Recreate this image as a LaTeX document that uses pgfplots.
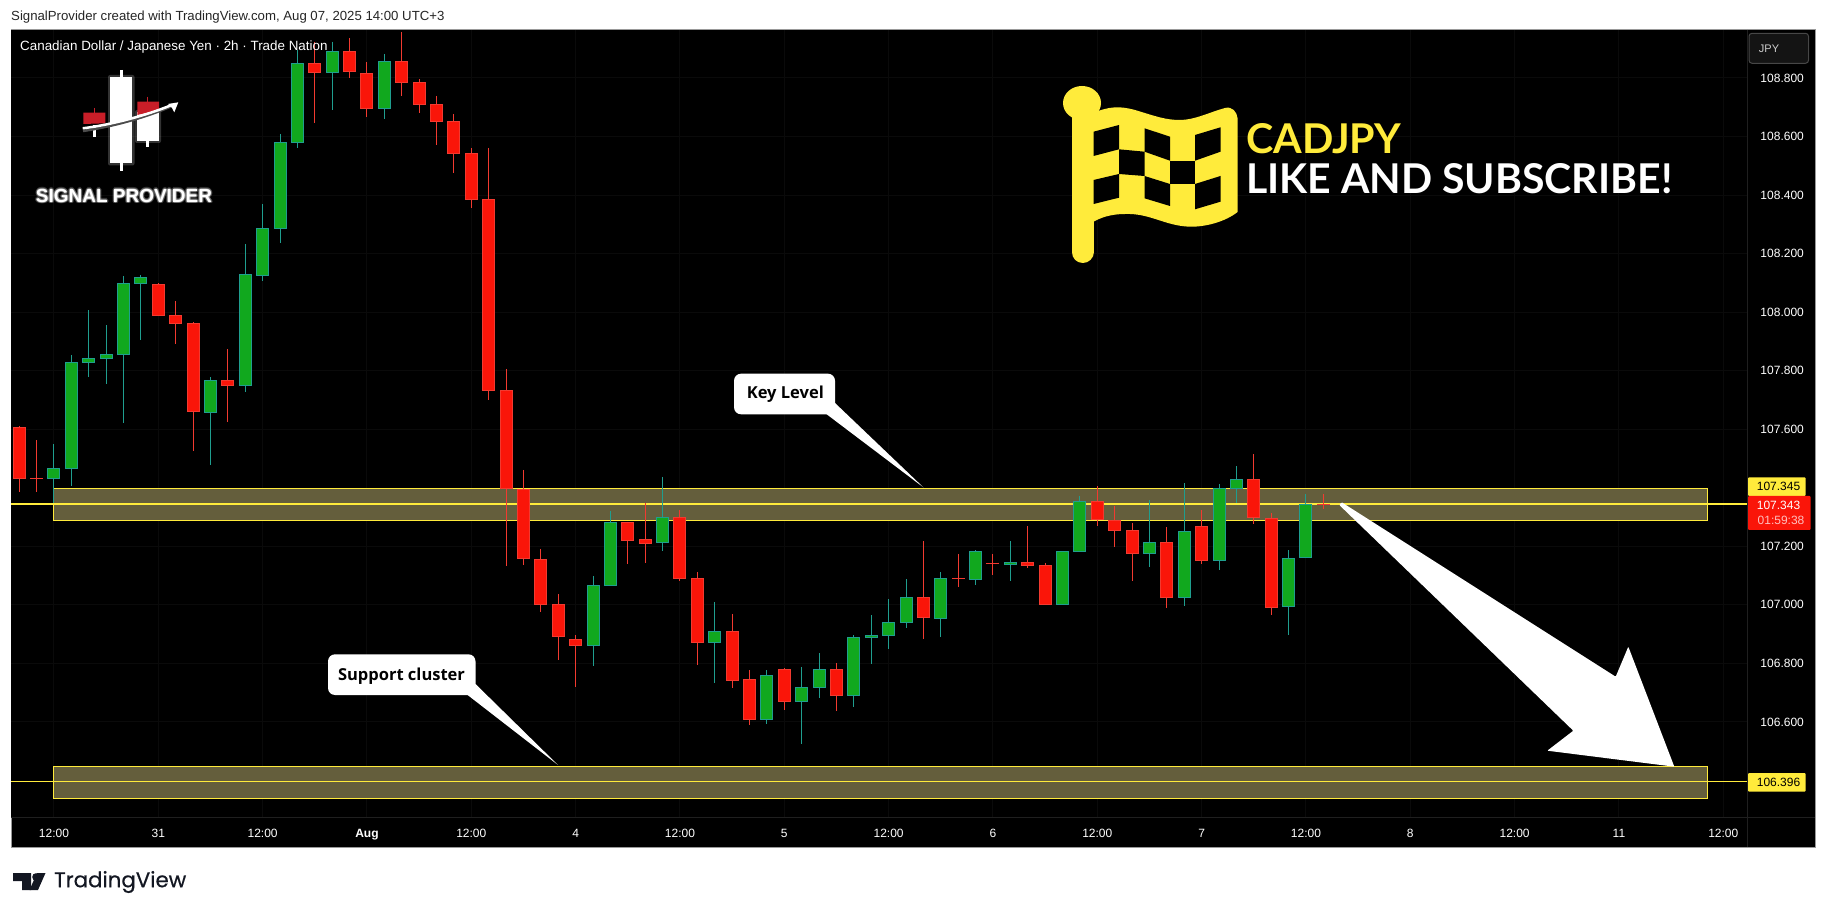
\documentclass[border=0pt]{standalone}
\usepackage{fontspec}
\usepackage{graphicx}
\usepackage{pgfplots}
\usepackage{pgfplotstable}
\pgfplotsset{compat=1.18}
\setmainfont{Liberation Sans}
\newfontfamily\lato{Lato}
\newfontfamily\opensans{Open Sans}
\newfontfamily\tvfont[FakeBold=0.5]{Poppins}

\definecolor{upfill}{HTML}{11A81E}
\definecolor{upline}{HTML}{1F9E8F}
\definecolor{downfill}{HTML}{FA1509}
\definecolor{downline}{HTML}{F23A30}
\definecolor{tvyellow}{HTML}{FFEB3B}
\definecolor{zone}{HTML}{645E3C}
\definecolor{gridc}{HTML}{0A0A0A}
\definecolor{tvdark}{HTML}{131722}
\definecolor{logored}{HTML}{C81E28}

% columns: bar, high, body top, body bottom, low
\pgfplotstableread{
i h t b l
2 107.550 107.467 107.431 107.347
3 107.854 107.829 107.465 107.406
4 108.007 107.842 107.827 107.780
5 107.956 107.856 107.841 107.755
6 108.124 108.099 107.855 107.622
7 108.127 108.119 108.097 107.905
11 107.778 107.767 107.657 107.479
13 108.233 108.129 107.749 107.728
14 108.370 108.287 108.125 108.108
15 108.609 108.580 108.285 108.237
16 108.896 108.850 108.579 108.562
18 108.924 108.891 108.818 108.691
21 108.882 108.857 108.695 108.661
33 107.099 107.067 106.860 106.791
34 107.321 107.282 107.066 107.066
37 107.437 107.299 107.212 107.184
40 107.010 106.910 106.871 106.734
43 106.777 106.759 106.608 106.593
45 106.788 106.718 106.669 106.525
46 106.835 106.780 106.717 106.682
48 106.896 106.889 106.690 106.651
49 106.965 106.896 106.888 106.798
50 107.020 106.940 106.895 106.849
51 107.088 107.026 106.939 106.921
53 107.112 107.091 106.953 106.890
55 107.187 107.183 107.086 107.068
57 107.218 107.145 107.137 107.082
60 107.183 107.183 107.001 107.001
61 107.372 107.354 107.182 107.182
65 107.357 107.214 107.175 107.129
67 107.416 107.251 107.025 106.997
69 107.413 107.398 107.151 107.119
70 107.474 107.429 107.397 107.347
73 107.187 107.159 106.994 106.897
74 107.379 107.345 107.161 107.161
}\upbars

\pgfplotstableread{
i h t b l
0 107.611 107.607 107.431 107.387
1 107.563 107.433 107.430 107.387
8 108.099 108.095 107.988 107.988
9 108.038 107.989 107.961 107.891
10 107.966 107.962 107.660 107.527
12 107.874 107.767 107.749 107.626
17 108.924 108.850 108.818 108.647
19 108.937 108.891 108.822 108.801
20 108.855 108.816 108.695 108.668
22 108.957 108.857 108.784 108.739
23 108.796 108.785 108.709 108.682
24 108.739 108.711 108.651 108.571
25 108.677 108.652 108.541 108.477
26 108.561 108.543 108.384 108.357
27 108.561 108.386 107.732 107.701
28 107.806 107.733 107.395 107.133
29 107.461 107.395 107.156 107.136
30 107.191 107.156 107.001 106.977
31 107.037 107.002 106.891 106.812
32 106.897 106.882 106.860 106.720
35 107.284 107.282 107.219 107.140
36 107.349 107.224 107.209 107.143
38 107.324 107.299 107.089 107.082
39 107.112 107.091 106.871 106.795
41 106.969 106.910 106.741 106.716
42 106.777 106.746 106.608 106.590
44 106.783 106.780 106.669 106.641
47 106.800 106.780 106.690 106.637
52 107.218 107.026 106.956 106.883
54 107.174 107.092 107.089 107.061
56 107.174 107.144 107.141 107.102
58 107.269 107.145 107.134 107.126
59 107.142 107.135 107.001 107.001
62 107.406 107.354 107.291 107.269
63 107.338 107.291 107.253 107.198
64 107.279 107.255 107.175 107.082
66 107.265 107.214 107.025 106.990
68 107.324 107.268 107.151 107.140
71 107.515 107.429 107.298 107.277
72 107.313 107.298 106.990 106.965
75 107.379 107.345 107.342 107.328
}\downbars

% #1 table, #2 outline/wick colour, #3 body colour
\newcommand\candles[3]{
  \addplot[forget plot, draw=none, mark=none, error bars/.cd, y dir=minus, y explicit,
    error mark=none, error bar style={draw=#2, line width=1pt}]
    table[x=i, y=h, y error minus expr={\thisrow{h}-\thisrow{l}}] {#1};
  \addplot[forget plot, draw=none, mark=none, error bars/.cd, y dir=minus, y explicit,
    error mark=none, error bar style={draw=#2, line width=13pt, line cap=butt}]
    table[x=i, y=t, y error minus expr={\thisrow{t}-\thisrow{b}}] {#1};
  \addplot[forget plot, draw=none, mark=none, error bars/.cd, y dir=minus, y explicit,
    error mark=none, error bar style={draw=#3, line width=11pt, line cap=butt}]
    table[x=i, y expr={\thisrow{t}-0.0034}, y error minus expr={max(\thisrow{t}-\thisrow{b}-0.0068,0)}] {#1};
}

\begin{document}
\begin{tikzpicture}
  \fill[white] (0,0) rectangle (1826pt,914pt);

  % panel behind the axis, in image pixels
  \begin{scope}[shift={(0,914pt)}, x=1pt, y=-1pt]
    \fill[black] (11,30) rectangle (1815,847);
    \draw[color=black!40!white, line width=1pt] (11,30) rectangle (1815,847);
  \end{scope}

  \begin{axis}[
    at={(11pt,97pt)}, anchor=south west,
    scale only axis, width=1736pt, height=787pt,
    xmin=-0.47, xmax=99.36, ymin=106.2752, ymax=108.964,
    axis background/.style={fill=black},
    axis line style={draw=none},
    major tick length=0pt,
    grid=major, grid style={color=gridc, line width=1pt},
    xtick={2,8,14,20,26,32,38,44,50,56,62,68,74,80,86,92,98},
    xticklabels={12:00,31,12:00,\textbf{Aug},12:00,4,12:00,5,12:00,6,12:00,7,12:00,8,12:00,11,12:00},
    ytick={106.6,106.8,107,107.2,107.6,107.8,108,108.2,108.4,108.6,108.8},
    scaled y ticks=false,
    yticklabel pos=right,
    tick label style={text=white, font=\fontsize{12}{12}\selectfont},
    yticklabel style={anchor=west, xshift=10pt, /pgf/number format/.cd, fixed, fixed zerofill, precision=3, assume math mode=true},
    xticklabel style={anchor=base, yshift=-20pt},
  ]
    % zones
    \addplot[forget plot, draw=tvyellow, line width=1pt, fill=zone] coordinates {(2,107.398) (97.09,107.398) (97.09,107.289) (2,107.289)} -- cycle;
    \addplot[forget plot, draw=tvyellow, line width=1pt, fill=zone] coordinates {(2,106.449) (97.09,106.449) (97.09,106.340) (2,106.340)} -- cycle;
    % price lines
    \addplot[forget plot, color=tvyellow, line width=1.5pt] coordinates {(-0.47,107.345) (99.36,107.345)};
    \addplot[forget plot, color=tvyellow, line width=1.5pt] coordinates {(-0.47,106.396) (99.36,106.396)};

    \candles{\upbars}{upline}{upfill}
    \candles{\downbars}{downline}{downfill}
  \end{axis}

  % everything else, in image pixels from the top left
  \begin{scope}[shift={(0,914pt)}, x=1pt, y=-1pt]
    \draw[color=black!88!white, line width=1pt] (1747,30) -- (1747,847);
    \draw[color=black!88!white, line width=1pt] (11,817) -- (1815,817);

    \node[anchor=west, inner sep=0pt, text=black!85!white, font=\fontsize{13.2}{13.2}\selectfont] at (11,16.7)
      {SignalProvider created with TradingView.com, Aug 07, 2025 14:00 UTC+3};
    \node[anchor=west, inner sep=0pt, text=white, font=\fontsize{13.4}{13.4}\selectfont] at (20,46.7)
      {Canadian Dollar / Japanese Yen · 2h · Trade Nation};

    % price badges
    \fill[tvyellow, rounded corners=1pt] (1748,477.3) rectangle (1805.7,496);
    \node[text=black, font=\fontsize{12}{12}\selectfont] at (1778.5,486.5) {107.345};
    \fill[downfill, rounded corners=1pt] (1748,496) rectangle (1810.7,530);
    \node[text=white, font=\fontsize{12}{12}\selectfont] at (1778.5,505.7) {107.343};
    \node[text=white!75!red, font=\fontsize{12}{12}\selectfont] at (1781,520.7) {01:59:38};
    \fill[tvyellow, rounded corners=1pt] (1748,773) rectangle (1805.7,791.7);
    \node[text=black, font=\fontsize{12}{12}\selectfont] at (1778.5,782.5) {106.396};

    % currency button
    \filldraw[fill=black!92!white, draw=black!72!white, rounded corners=3pt, line width=1pt] (1749,33.3) rectangle (1808.5,63.3);
    \node[text=white!80!black, font=\fontsize{11}{11}\selectfont] at (1769,49) {JPY};

    % call-outs
    \fill[white, rounded corners=7pt] (734,373.7) rectangle (835,414.3);
    \fill[white] (835,403) -- (923.3,487.3) -- (826.7,414.3) -- cycle;
    \node[text=black] at (785.3,394) {\resizebox{77pt}{!}{\opensans\bfseries Key Level}};
    \fill[white, rounded corners=7pt] (328,654.3) rectangle (475.5,695);
    \fill[white] (475.5,684) -- (558,765) -- (467.6,695) -- cycle;
    \node[text=black] at (401.5,676) {\resizebox{127pt}{!}{\opensans\bfseries Support cluster}};

    % big arrow
    \fill[white, rounded corners=0.8pt] (1339.3,505) -- (1341.7,502.3) -- (1615.7,676.7) -- (1628.3,646.7)
      -- (1674.3,766.7) -- (1547.3,750.7) -- (1573.3,730.7) -- cycle;

    % flag
    \draw[tvyellow, line width=22pt, line cap=round] (1082.5,110) -- (1082.5,252);
    \fill[tvyellow] (1082,103) ellipse (19 and 17);
    \fill[tvyellow] (1093,113) .. controls (1110,106) and (1120,106) .. (1135,110)
      .. controls (1155,116) and (1165,120) .. (1180,120)
      .. controls (1195,120) and (1210,112) .. (1225,108)
      .. controls (1232,106) and (1237,112) .. (1237.5,118) -- (1237.5,212)
      .. controls (1225,222) and (1205,227) .. (1190,226.7)
      .. controls (1165,226) and (1150,213) .. (1125,214)
      .. controls (1110,214) and (1100,218) .. (1093,222) -- cycle;
    \fill[black] (1093.5,131.7) -- (1119,125) -- (1119,149.3) -- (1093.5,156) -- cycle;
    \fill[black] (1144.5,128.3) -- (1170,136.7) -- (1170,160.7) -- (1144.5,151.7) -- cycle;
    \fill[black] (1195,135) -- (1220.5,127.3) -- (1220.5,151.7) -- (1195,160.7) -- cycle;
    \fill[black] (1119,149.3) -- (1144.5,151.7) -- (1144.5,176) -- (1119,174) -- cycle;
    \fill[black] (1170,160.7) -- (1195,160.7) -- (1195,184) -- (1170,184) -- cycle;
    \fill[black] (1093.5,180) -- (1119,174) -- (1119,197.7) -- (1093.5,204) -- cycle;
    \fill[black] (1144.5,176) -- (1170,184) -- (1170,206) -- (1144.5,198.3) -- cycle;
    \fill[black] (1195,184) -- (1220.5,176) -- (1220.5,201.7) -- (1195,209.3) -- cycle;
    \node[anchor=south west, inner sep=0pt, text=tvyellow] at (1246,154) {\resizebox{155pt}{30pt}{\lato\bfseries CADJPY}};
    \node[anchor=south west, inner sep=0pt, text=white] at (1246,194) {\resizebox{426pt}{30pt}{\lato\bfseries LIKE AND SUBSCRIBE!}};

    % logo
    \foreach \dx/\dy in {-1.5/0,1.5/0,0/-1.5,0/1.5,-1/-1,1/1,-1/1,1/-1}
      \node[text=white, opacity=0.18] at (124+\dx,195.5+\dy) {\resizebox{176pt}{!}{\bfseries SIGNAL PROVIDER}};
    \node[text=white] at (124,195.5) {\resizebox{176pt}{!}{\bfseries SIGNAL PROVIDER}};
    \fill[white, opacity=0.2, rounded corners=2pt] (108,75) rectangle (134.5,165.5);
    \fill[white, opacity=0.2, rounded corners=2pt] (135,110) rectangle (161,143);
    \draw[white, line width=2.5pt] (121.3,70) -- (121.3,171);
    \draw[white, line width=2.5pt] (147.7,130) -- (147.7,147);
    \draw[white, line width=2.5pt] (94.3,125) -- (94.3,136.7);
    \fill[white] (110.3,77.3) rectangle (132.3,163.3);
    \fill[white] (137.3,112) rectangle (159,141);
    \draw[color=logored, line width=1.5pt] (147.7,96.7) -- (147.7,103);
    \draw[color=logored, line width=1.5pt] (94.3,108) -- (94.3,114);
    \fill[logored] (137.3,101.7) -- (159,101.7) -- (159,110) -- (137.3,115) -- cycle;
    \fill[logored] (83.3,112.7) -- (105.3,112.7) -- (105.3,123.3) -- (83.3,124) -- cycle;
    \draw[color=black!70!white, line width=2.5pt] (83,131) .. controls (110,127) and (145,118) .. (172,106);
    \draw[white, line width=2.5pt] (82.7,128.3) .. controls (110,125) and (145,116) .. (171.7,105);
    \fill[white] (178.3,102.3) -- (168,104) -- (172,108) -- (174.3,112.3) -- cycle;

    % TradingView mark
    \fill[tvdark] (13,873) -- (31,873) -- (31,890) -- (22,890) -- (22,881) -- (13,881) -- cycle;
    \fill[tvdark] (36,877) circle (3.8);
    \fill[tvdark] (37,873) -- (45.5,873) -- (38,890) -- (29.5,890) -- cycle;
    \node[anchor=west, inner sep=0pt, text=tvdark] at (54,882) {\resizebox{132pt}{!}{\tvfont TradingView}};
  \end{scope}

  \pgfresetboundingbox
  \path (0,0) rectangle (1826pt,914pt);
\end{tikzpicture}
\end{document}
